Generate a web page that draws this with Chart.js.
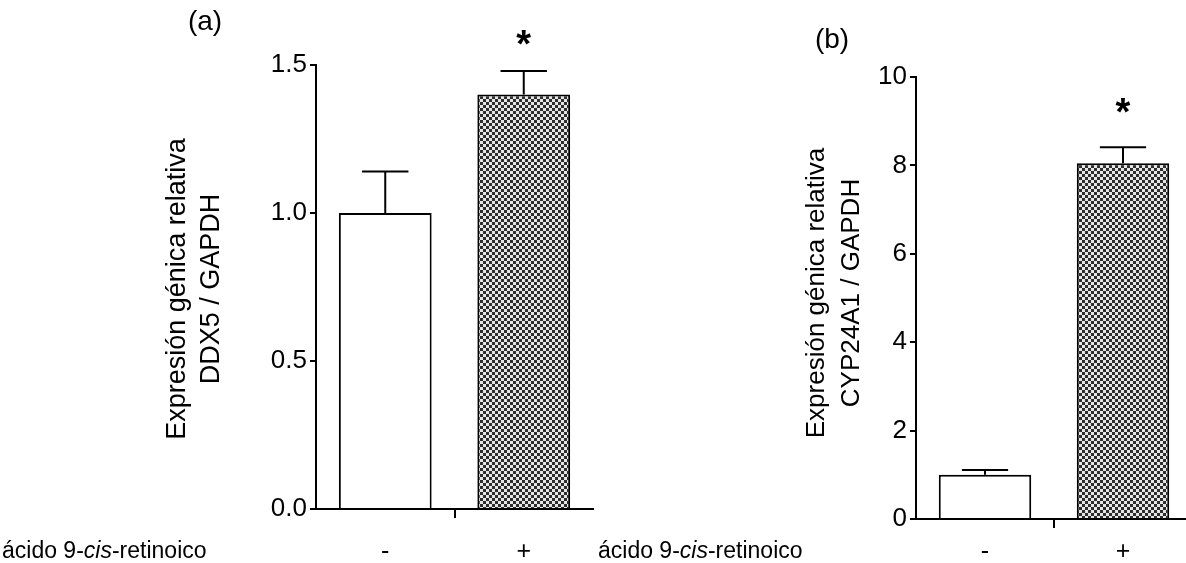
<!DOCTYPE html>
<html>
<head>
<meta charset="utf-8">
<script src="https://cdn.jsdelivr.net/npm/chart.js@4.4.0/dist/chart.umd.min.js"></script>
<style>
  html, body { margin: 0; padding: 0; background: #fff; overflow: hidden; width: 1186px; height: 563px; }
  .panel { position: absolute; top: 0; }
  #wrapA { left: 0; }
  #wrapB { left: 590px; }
</style>
</head>
<body>
<div class="panel" id="wrapA"><canvas id="chartA" width="600" height="563"></canvas></div>
<div class="panel" id="wrapB"><canvas id="chartB" width="610" height="563"></canvas></div>
<script>
// data
const categories = ['-', '+'];
const ddx5Means = [1.00, 1.40];
const ddx5Errors = [0.14, 0.08];
const cypMeans = [1.00, 8.05];
const cypErrors = [0.11, 0.36];
const significant = [false, true];

const FONT = "'Liberation Sans', Arial, sans-serif";

// checkered fill like the printed hatch
function makeHatch() {
  const c = document.createElement('canvas');
  c.width = 6; c.height = 6;
  const g = c.getContext('2d');
  g.fillStyle = '#e6e6e6'; g.fillRect(0, 0, 6, 6);
  g.fillStyle = '#2e2e2e';
  g.fillRect(0, 0, 3, 3);
  g.fillRect(3, 3, 3, 3);
  return g.createPattern(c, 'repeat');
}
const hatch = makeHatch();

const extras = {
  id: 'extras',
  afterDatasetsDraw(chart, args, o) {
    const ctx = chart.ctx;
    const y = chart.scales.y;
    const meta = chart.getDatasetMeta(0);
    ctx.save();
    ctx.strokeStyle = '#000';
    ctx.fillStyle = '#000';
    ctx.lineWidth = 2;
    meta.data.forEach((bar, i) => {
      const base = y.getPixelForValue(o.means[i]);
      const top = y.getPixelForValue(o.means[i] + o.errors[i]);
      const half = bar.width / 4;
      ctx.beginPath();
      ctx.moveTo(bar.x, base); ctx.lineTo(bar.x, top);
      ctx.moveTo(bar.x - half, top); ctx.lineTo(bar.x + half, top);
      ctx.stroke();
      if (o.stars[i]) {
        ctx.font = 'bold 38px ' + FONT;
        ctx.textAlign = 'center';
        ctx.textBaseline = 'middle';
        ctx.fillText('*', bar.x, top - o.starGap);
      }
    });

    // rotated y title, two lines
    const midY = (chart.chartArea.top + chart.chartArea.bottom) / 2 + o.titleShift;
    ctx.font = o.titleSize + 'px ' + FONT;
    ctx.textAlign = 'center';
    ctx.textBaseline = 'middle';
    o.title.forEach((line, k) => {
      ctx.save();
      ctx.translate(o.titleX[k], midY);
      ctx.rotate(-Math.PI / 2);
      ctx.fillText(line, 0, 0);
      ctx.restore();
    });

    // panel letter
    ctx.font = '28px ' + FONT;
    ctx.fillText(o.letter, o.letterX, o.letterY);

    // treatment label with italic "cis"
    ctx.textAlign = 'left';
    ctx.textBaseline = 'middle';
    let x = o.treatX;
    const parts = [['ácido 9-', ''], ['cis', 'italic '], ['-retinoico', '']];
    parts.forEach(([t, st]) => {
      ctx.font = st + '23px ' + FONT;
      ctx.fillText(t, x, o.treatY);
      x += ctx.measureText(t).width;
    });
    ctx.restore();
  }
};

function panel(id, means, errors, yMax, yStep, decimals, area, labelPad, extra) {
  return new Chart(document.getElementById(id), {
    type: 'bar',
    data: {
      labels: categories,
      datasets: [{
        data: means,
        backgroundColor: ['#ffffff', hatch],
        borderColor: '#000',
        borderWidth: 2,
        borderSkipped: 'bottom',
        categoryPercentage: 0.67,
        barPercentage: 1
      }]
    },
    options: {
      responsive: false,
      animation: false,
      devicePixelRatio: 1,
      layout: { padding: { top: area.top, right: area.right, left: 0, bottom: 0 } },
      plugins: { legend: { display: false }, tooltip: { enabled: false }, extras: extra },
      scales: {
        x: {
          afterFit: s => { s.height = area.xh; },
          border: { display: true, color: '#000', width: 2 },
          grid: {
            offset: true, drawOnChartArea: false, tickLength: 9, lineWidth: 2,
            color: c => c.index === 1 ? '#000' : 'rgba(0,0,0,0)'
          },
          ticks: { color: '#000', font: { family: FONT, size: 25 }, padding: labelPad }
        },
        y: {
          min: 0, max: yMax,
          afterFit: s => { s.width = area.left; },
          border: { display: true, color: '#000', width: 2 },
          grid: { drawOnChartArea: false, tickLength: 6, lineWidth: 2, color: '#000' },
          ticks: {
            stepSize: yStep, color: '#000', padding: 3,
            font: { family: FONT, size: 26 },
            callback: v => v.toFixed(decimals)
          }
        }
      }
    },
    plugins: [extras]
  });
}

panel('chartA', ddx5Means, ddx5Errors, 1.5, 0.5, 1,
  { top: 65, right: 7, left: 316, xh: 54 }, 19,
  { means: ddx5Means, errors: ddx5Errors, stars: significant, starGap: 24,
    title: ['Expresión génica relativa', 'DDX5 / GAPDH'], titleX: [178, 212], titleShift: 2, titleSize: 27,
    letter: '(a)', letterX: 205, letterY: 22, treatX: 2, treatY: 552 });

panel('chartB', cypMeans, cypErrors, 10, 2, 0,
  { top: 77, right: 8, left: 326, xh: 44 }, 9,
  { means: cypMeans, errors: cypErrors, stars: significant, starGap: 33,
    title: ['Expresión génica relativa', 'CYP24A1 / GAPDH'], titleX: [227, 262], titleShift: -5, titleSize: 26,
    letter: '(b)', letterX: 242, letterY: 40, treatX: 8, treatY: 552 });
</script>
</body>
</html>
